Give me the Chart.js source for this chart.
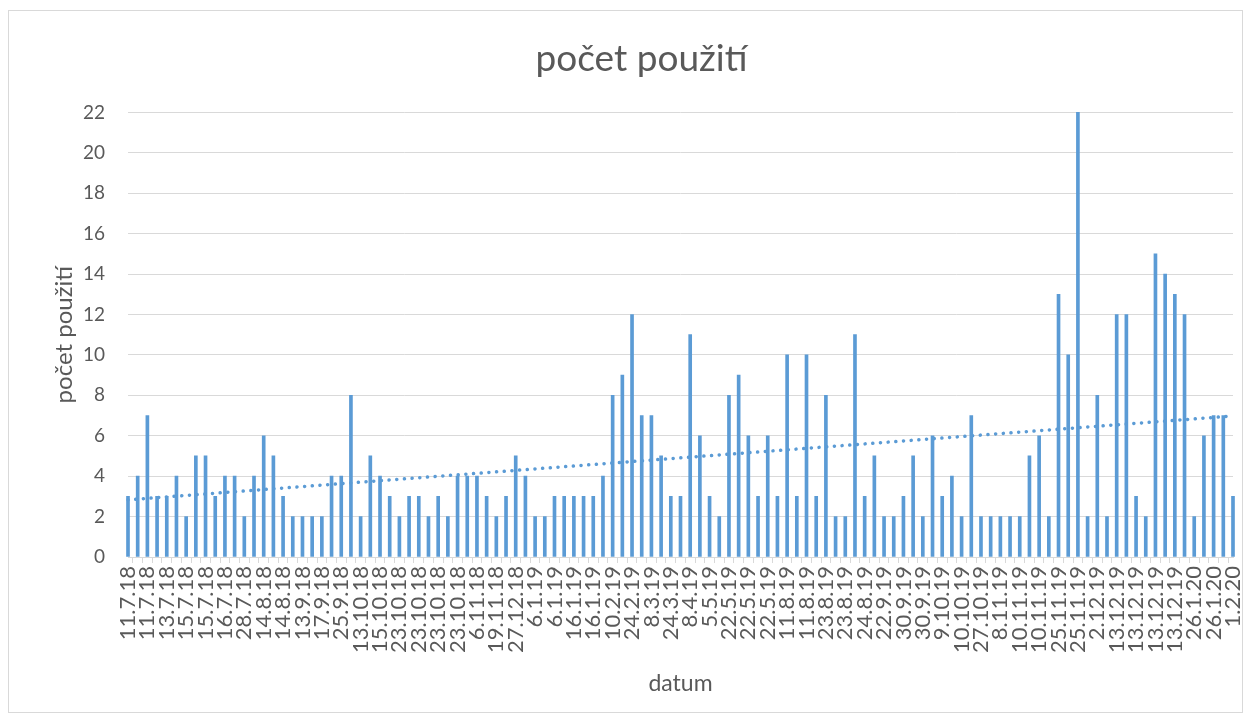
<!DOCTYPE html>
<html lang="cs">
<head>
<meta charset="utf-8">
<title>počet použití</title>
<script src="https://cdn.jsdelivr.net/npm/chart.js@4.4.0/dist/chart.umd.min.js"></script>
<style>
  html, body { margin: 0; padding: 0; background: #fff; }
  #wrap { position: relative; width: 1251px; height: 722px; }
</style>
</head>
<body>
<div id="wrap"><canvas id="chart" width="1251" height="722"></canvas></div>
<script>
// every second category carries a label on the axis
const tickLabels = [
  '11.7.18', '11.7.18', '13.7.18', '15.7.18', '15.7.18', '16.7.18', '28.7.18', '14.8.18',
  '14.8.18', '13.9.18', '17.9.18', '25.9.18', '13.10.18', '15.10.18', '23.10.18', '23.10.18',
  '23.10.18', '23.10.18', '6.11.18', '19.11.18', '27.12.18', '6.1.19', '6.1.19', '16.1.19',
  '16.1.19', '10.2.19', '24.2.19', '8.3.19', '24.3.19', '8.4.19', '5.5.19', '22.5.19',
  '22.5.19', '22.5.19', '11.8.19', '11.8.19', '23.8.19', '23.8.19', '24.8.19', '22.9.19',
  '30.9.19', '30.9.19', '9.10.19', '10.10.19', '27.10.19', '8.11.19', '10.11.19', '10.11.19',
  '25.11.19', '25.11.19', '2.12.19', '13.12.19', '13.12.19', '13.12.19', '13.12.19', '26.1.20',
  '26.1.20', '1.2.20'
];

// počet použití per category
const values = [
  3, 4, 7, 3, 3, 4, 2, 5, 5, 3, 4, 4, 2, 4, 6, 5, 3, 2, 2, 2, 2, 4, 4, 8, 2, 5, 4, 3, 2, 3,
  3, 2, 3, 2, 4, 4, 4, 3, 2, 3, 5, 4, 2, 2, 3, 3, 3, 3, 3, 4, 8, 9, 12, 7, 7, 5, 3, 3,
  11, 6, 3, 2, 8, 9, 6, 3, 6, 3, 10, 3, 10, 3, 8, 2, 2, 11, 3, 5, 2, 2, 3, 5, 2, 6, 3, 4,
  2, 7, 2, 2, 2, 2, 2, 5, 6, 2, 13, 10, 22, 2, 8, 2, 12, 12, 3, 2, 15, 14, 13, 12, 2, 6, 7, 7, 3
];

const yMin = 0;
const yMax = 22;
const yStep = 2;

const categories = values.map((_, i) => (i % 2 === 0 ? tickLabels[i / 2] : ''));

// linear trendline (least squares), like Excel's
const n = values.length;
const xMean = (n - 1) / 2;
const yMean = values.reduce((a, b) => a + b, 0) / n;
let sxy = 0, sxx = 0;
values.forEach((v, i) => { sxy += (i - xMean) * (v - yMean); sxx += (i - xMean) * (i - xMean); });
const slope = sxy / sxx;
const intercept = yMean - slope * xMean;
const trend = values.map((_, i) => intercept + slope * i);

const BLUE = '#5b9bd5';
const TEXT = '#595959';
const GRID = '#d9d9d9';
const FONT = 'Lato, "Open Sans", sans-serif';

const chartFrame = {
  id: 'chartFrame',
  beforeDraw(chart) {
    const ctx = chart.ctx;
    ctx.save();
    ctx.fillStyle = '#fff';
    ctx.fillRect(0, 0, chart.width, chart.height);
    ctx.strokeStyle = GRID;
    ctx.lineWidth = 1;
    ctx.strokeRect(8.5, 10.5, 1234, 702);
    ctx.restore();
  }
};

new Chart(document.getElementById('chart'), {
  type: 'bar',
  data: {
    labels: categories,
    datasets: [
      {
        type: 'line',
        label: 'Lineární (počet použití)',
        data: trend,
        borderColor: BLUE,
        borderWidth: 3.5,
        borderDash: [0.1, 7.6],
        borderCapStyle: 'round',
        pointRadius: 0,
        fill: false,
        order: 0
      },
      {
        label: 'počet použití',
        data: values,
        backgroundColor: BLUE,
        barThickness: 3,
        clip: 4,
        order: 1
      }
    ]
  },
  options: {
    responsive: false,
    animation: false,
    layout: { padding: { left: 50, right: 18, top: 0, bottom: 0 } },
    plugins: {
      legend: { display: false },
      tooltip: { enabled: false },
      title: {
        display: true,
        text: 'počet použití',
        color: TEXT,
        font: { family: FONT, size: 37, weight: 'normal' },
        padding: { top: 37, bottom: 31 }
      }
    },
    scales: {
      x: {
        offset: false,
        grid: { drawOnChartArea: false, drawTicks: true, tickLength: 6, color: GRID },
        border: { color: GRID },
        ticks: {
          autoSkip: false,
          maxRotation: 90,
          minRotation: 90,
          padding: 3,
          color: TEXT,
          font: { family: FONT, size: 22 },
          callback: (v, i) => categories[i]
        },
        title: {
          display: true,
          text: 'datum',
          color: TEXT,
          font: { family: FONT, size: 23 },
          padding: { top: 4, bottom: 25 }
        },
        afterFit: s => {
          s.height = 165;
          s.paddingLeft = 0;
          s.paddingRight = 0;
        }
      },
      y: {
        min: yMin,
        max: yMax,
        ticks: { stepSize: yStep, color: TEXT, font: { family: FONT, size: 19 }, padding: 23 },
        grid: { color: GRID, drawTicks: false },
        border: { display: false },
        title: {
          display: true,
          text: 'počet použití',
          color: TEXT,
          font: { family: FONT, size: 24 },
          padding: { top: 0, bottom: 0 }
        },
        afterFit: s => {
          s.width = 78;
          s.paddingTop = 0;
          s.paddingBottom = 0;
        }
      }
    }
  },
  plugins: [chartFrame]
});
</script>
</body>
</html>
